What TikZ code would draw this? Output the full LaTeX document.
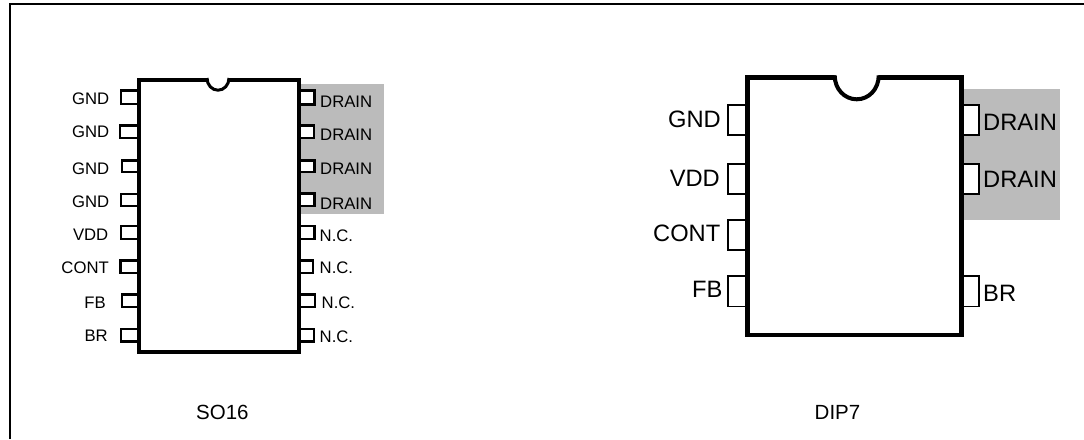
\documentclass[tikz,border=0pt]{standalone}
\usepackage{fontspec}
\setmainfont{Liberation Sans}
\tikzset{
  frameline/.style={draw=black,line width=2pt},
  grey area/.style={fill=padgrey,draw=none},
  body/.style={draw=black,fill=white,line width=4pt,miter limit=10},
  notch/.style={draw=black,fill=white},
  pin/.style={draw=black,fill=white,line width=2.5pt},
  bigpin/.style={draw=black,fill=white,line width=1.8pt},
  small/.style={inner sep=0pt,font=\fontsize{16.7}{18}\selectfont},
  big/.style={inner sep=0pt,font=\fontsize{23.7}{26}\selectfont},
  caption/.style={inner sep=0pt,font=\fontsize{20.5}{22}\selectfont},
  lab left/.style={anchor=base east},
  lab right/.style={anchor=base west},
}
\definecolor{padgrey}{HTML}{BBBBBB}
\begin{document}
\begin{tikzpicture}[x=1pt,y=-1pt]
\useasboundingbox (0,0) rectangle (1084,439);
\fill[white] (0,0) rectangle (1084,439);
% frame
\draw[frameline] (10,439) -- (10,4) -- (1084,4);
% shaded areas
\fill[grey area] (298,83.5) rectangle (384,214);
\fill[grey area] (962,89) rectangle (1060,220);
% SO16 pins, left
\draw[pin] (139,90.6) -| (121.2,103.9) -- (139,103.9);
\draw[pin] (139,125.3) -| (120.2,138.1) -- (139,138.1);
\draw[pin] (139,160.3) -| (122.2,172) -- (139,172);
\draw[pin] (139,194) -| (121.2,206.1) -- (139,206.1);
\draw[pin] (139,226) -| (121.2,238.8) -- (139,238.8);
\draw[pin] (139,260.3) -| (120.5,272.8) -- (139,272.8);
\draw[pin] (139,294.3) -| (122,306.8) -- (139,306.8);
\draw[pin] (139,329) -| (121.2,341.5) -- (139,341.5);
% SO16 pins, right
\path[fill=white] (298,90.6) rectangle (314.5,104.4);
\path[fill=white] (298,125.3) rectangle (314.5,138.1);
\path[fill=white] (298,160.3) rectangle (314.5,172.1);
\path[fill=white] (298,193.3) rectangle (314.5,206.1);
\draw[pin] (298,90.6) -| (314.5,104.4) -- (298,104.4);
\draw[pin] (298,125.3) -| (314,138.1) -- (298,138.1);
\draw[pin] (298,160.3) -| (314.5,172.1) -- (298,172.1);
\draw[pin] (298,193.3) -| (314.5,206.1) -- (298,206.1);
\draw[pin] (298,226) -| (314.5,238.8) -- (298,238.8);
\draw[pin] (298,260.3) -| (312.8,272.8) -- (298,272.8);
\draw[pin] (298,294.3) -| (314.8,306.8) -- (298,306.8);
\draw[pin] (298,329) -| (313.8,341.5) -- (298,341.5);
% SO16 body
\draw[body] (139,80) rectangle (298.5,352);
\path[fill=white] (208,76) rectangle (228,82);
\draw[notch,line width=3pt] (207,78) .. controls (207,85) and (212,90.2) .. (218,90.2)
  .. controls (224,90.2) and (229,85) .. (229,78);
% DIP7 pins
\draw[bigpin] (747,105) -| (727.6,135.1) -- (747,135.1);
\draw[bigpin] (747,163.6) -| (727.6,193.8) -- (747,193.8);
\draw[bigpin] (747,220) -| (727.6,249.8) -- (747,249.8);
\draw[bigpin] (747,276.2) -| (727.6,306.4) -- (747,306.4);
\path[fill=white] (962,105) rectangle (978.8,135.1);
\path[fill=white] (962,163.6) rectangle (978.8,193.8);
\draw[bigpin] (962,105) -| (978.8,135.1) -- (962,135.1);
\draw[bigpin] (962,163.6) -| (978.8,193.8) -- (962,193.8);
\draw[bigpin] (962,276.2) -| (978.8,306.4) -- (962,306.4);
% DIP7 body
\draw[body,line width=4.5pt] (747.5,77.7) rectangle (961.7,335);
\path[fill=white] (836,74) rectangle (878,81);
\draw[notch,line width=4pt] (834.7,75.5) .. controls (834.7,89) and (844.5,99.3) .. (856.7,99.3)
  .. controls (869,99.3) and (878.7,89) .. (878.7,75.5);
% SO16 labels
\node[small,lab left] (g1) at (109.5,104.3) {GND};
\node[small,lab left] (g2) at (109.5,137.7) {GND};
\node[small,lab left] (g3) at (109.5,174.3) {GND};
\node[small,lab left] (g4) at (109.5,207.3) {GND};
\node[small,lab left] (v1) at (108.5,240) {VDD};
\node[small,lab left] (c1) at (109,273.7) {CONT};
\node[small,lab left] (f1) at (106,308.3) {FB};
\node[small,lab left] (b1) at (108,341.7) {BR};
\node[small,lab right] (d1) at (320,107.3) {DRAIN};
\node[small,lab right] (d2) at (320,140.7) {DRAIN};
\node[small,lab right] (d3) at (320,174) {DRAIN};
\node[small,lab right] (d4) at (320,209.3) {DRAIN};
\node[small,lab right] (n1) at (319.5,241.3) {N.C.};
\node[small,lab right] (n2) at (319.5,273.7) {N.C.};
\node[small,lab right] (n3) at (321.5,308.3) {N.C.};
\node[small,lab right] (n4) at (319.5,342.7) {N.C.};
\node[caption,anchor=base west] (so) at (196,419) {SO16};
% DIP7 labels
\node[big,lab left] (g5) at (721,127.5) {GND};
\node[big,lab left] (v2) at (720,186) {VDD};
\node[big,lab left] (c2) at (720.5,241.7) {CONT};
\node[big,lab left] (f2) at (722.5,297.7) {FB};
\node[big,lab right] (d5) at (983,130.7) {DRAIN};
\node[big,lab right] (d6) at (983,187.7) {DRAIN};
\node[big,lab right] (b2) at (983,301.7) {BR};
\node[caption,anchor=base west] (dip) at (814.5,419) {DIP7};
\end{tikzpicture}
\end{document}
